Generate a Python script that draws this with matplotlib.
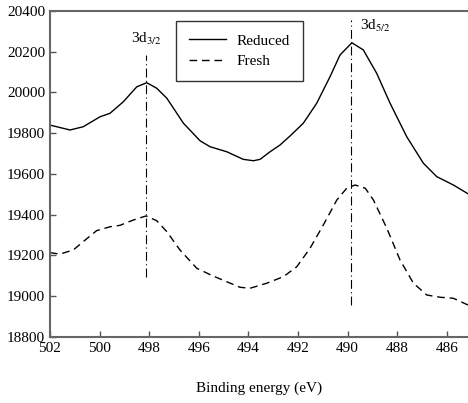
import numpy as np
import matplotlib.pyplot as plt

plt.rcParams['font.family'] = ['Liberation Serif', 'DejaVu Serif']
plt.rcParams['mathtext.fontset'] = 'stix'

# Reduced 样品
reduced_x = [502.00, 501.19, 500.66, 499.98, 499.58, 499.04, 498.50, 498.10, 497.70, 497.29,
             496.62, 495.95, 495.55, 494.87, 494.21, 493.80, 493.53, 493.13, 492.73, 492.32,
             491.79, 491.25, 490.71, 490.31, 489.83, 489.37, 488.83, 488.29, 487.62, 486.95,
             486.41, 485.74, 485.15]
reduced_y = [19840, 19816, 19832, 19881, 19898, 19955, 20028, 20048, 20021, 19972,
             19849, 19763, 19734, 19709, 19672, 19665, 19672, 19709, 19742, 19787,
             19849, 19947, 20078, 20184, 20244, 20209, 20094, 19947, 19783, 19653,
             19587, 19546, 19503]

# Fresh 样品
fresh_x = [502.00, 501.60, 501.06, 500.66, 500.12, 499.58, 499.18, 498.64, 498.13, 497.70,
           497.29, 496.76, 496.08, 495.42, 494.87, 494.34, 493.94, 493.26, 492.59, 492.05,
           491.52, 490.98, 490.44, 490.04, 489.70, 489.29, 488.96, 488.42, 487.89, 487.35,
           486.81, 486.27, 485.74, 485.15]
fresh_y = [19214, 19207, 19227, 19268, 19322, 19341, 19348, 19374, 19394, 19371,
           19317, 19227, 19137, 19099, 19071, 19044, 19039, 19064, 19096, 19145,
           19235, 19350, 19472, 19530, 19546, 19530, 19472, 19333, 19178, 19064,
           19006, 18995, 18990, 18957]

# 峰位标记
peak_x = [498.13, 489.85]
peak_lo = [19095, 18957]
peak_hi = [20184, 20356]
peak_labels = ['3d$_{3/2}$', '3d$_{5/2}$']

fig = plt.figure(figsize=(4.68, 4.03), dpi=100)
ax = fig.add_axes([0.1068, 0.1638, 0.8932, 0.8089])

ax.plot(reduced_x, reduced_y, color='black', lw=1.0, label='Reduced')
ax.plot(fresh_x, fresh_y, color='black', lw=1.0, ls=(0, (5.5, 3.5)), label='Fresh')

for px, lo, hi in zip(peak_x, peak_lo, peak_hi):
    ax.plot([px, px], [lo, hi], color='black', lw=0.8, ls=(0, (8, 3, 1, 3)))

ax.text(498.13, 20265, peak_labels[0], ha='center', va='center', fontsize=11)
ax.text(489.5, 20325, peak_labels[1], ha='left', va='center', fontsize=11)

ax.set_xlim(502, 485.15)
ax.set_ylim(18800, 20400)
ax.set_xticks(np.arange(502, 485, -2))
ax.set_yticks(np.arange(18800, 20401, 200))

ax.tick_params(direction='in', length=4, width=1, labelsize=11, color='#555555')
for s in ['left', 'bottom', 'top']:
    ax.spines[s].set_color('#666666')
    ax.spines[s].set_linewidth(1.5)
ax.spines['right'].set_visible(False)

ax.set_xlabel('Binding energy (eV)', fontsize=11, labelpad=19)

leg = ax.legend(loc='upper left', bbox_to_anchor=(0.3014, 0.9693), fontsize=11,
                frameon=True, fancybox=False, edgecolor='black', handlelength=2.45,
                borderpad=0.85, labelspacing=0.45, handletextpad=0.65,
                borderaxespad=0)
leg.get_frame().set_linewidth(1.0)

plt.savefig('out.png', dpi=100)
